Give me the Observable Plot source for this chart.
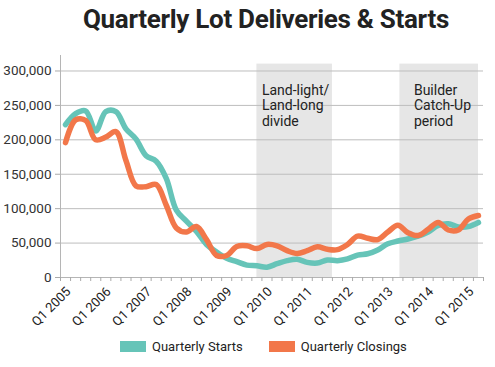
<!DOCTYPE html>
<html><head><meta charset="utf-8">
<script src="https://cdn.jsdelivr.net/npm/d3@7"></script>
<script src="https://cdn.jsdelivr.net/npm/@observablehq/plot@0.6"></script>
<style>
body{margin:0;background:#fff;}
#wrap{position:relative;width:495px;height:367px;overflow:hidden;font-family:Roboto,"DejaVu Sans Condensed",sans-serif;}
#title{position:absolute;left:0;top:4px;width:532px;text-align:center;font-size:26px;font-weight:bold;color:#222;letter-spacing:-0.3px;}
#legend{position:absolute;top:339px;left:120px;display:flex;align-items:center;font-size:13px;color:#222;}
.sw{display:inline-block;width:26px;height:11px;margin-right:6px;}
</style></head>
<body><div id="wrap"></div>
<script>
// Quarters Q1 2005 .. Q2 2015 (index 0..41)
const starts = [222000,238000,242000,213000,241000,241000,216000,201000,177000,169000,
  144000,98000,82000,67000,48000,37000,28000,23000,18000,17000,
  15000,20000,24500,26500,22000,21000,25500,24500,27000,32500,
  34500,40000,49000,53000,56000,60000,66000,75500,78000,73500,
  74000,80000];
const closings = [196000,229000,228000,200000,204000,212000,170000,133000,132000,135000,
  105000,72000,66000,74000,55000,32000,32000,45000,46000,42000,
  48000,46000,39000,35000,39000,44500,41000,40500,48000,60000,
  57000,55000,66000,76000,65000,61000,70000,80000,69000,69000,
  85000,90000];
const tickLabels = ["Q1 2005","Q1 2006","Q1 2007","Q1 2008","Q1 2009","Q1 2010","Q1 2011","Q1 2012","Q1 2013","Q1 2014","Q1 2015"];
const yTicks = [0,50000,100000,150000,200000,250000,300000];
const shadeStart = [19, 33.2];
const shadeEnd = [26.5, 41];
const shadeText = ["Land-light/\nLand-long\ndivide", "Builder\nCatch-Up\nperiod"];
const shadeIndent = [5, 14];
const seriesNames = ["Quarterly Starts","Quarterly Closings"];
const colors = ["#66c4b8","#f2774a"];

const rows = (arr) => arr.map((v,i)=>({i, v}));
const shades = shadeStart.map((s,k)=>({x1:s, x2:shadeEnd[k], label:shadeText[k]}));
const boundaries = d3.range(-0.5, 42, 1);
const labelPos = tickLabels.map((_,k)=>k*4);

const chart = Plot.plot({
  width: 495, height: 367,
  marginLeft: 60, marginRight: 12, marginTop: 55, marginBottom: 90,
  style: {fontFamily: 'Roboto,"DejaVu Sans Condensed",sans-serif', background: "transparent"},
  x: {type: "linear", domain: [-0.5, 41.5], axis: null},
  y: {domain: [0, 322500], axis: null},
  marks: [
    Plot.rect(shades, {x1:"x1", x2:"x2", y1:0, y2:310000, fill:"#e6e6e6"}),
    Plot.ruleY(yTicks.filter(d=>d>0), {x1:-0.5, x2:41.5, stroke:"#bdbdbd", strokeWidth:1}),
    Plot.text([shades[0]], {x:"x1", y:310000, text:"label", textAnchor:"start", lineAnchor:"top", dx:shadeIndent[0], dy:20, fontSize:14, fill:"#222", lineHeight:1.1}),
    Plot.text([shades[1]], {x:"x1", y:310000, text:"label", textAnchor:"start", lineAnchor:"top", dx:shadeIndent[1], dy:20, fontSize:14, fill:"#222", lineHeight:1.1}),
    Plot.axisY({ticks: yTicks, tickFormat: d3.format(","), tickSize: 5, stroke:"#aaa", fontSize: 13.5, fill:"#333", tickPadding: 4, label: null}),
    Plot.ruleX([-0.5], {y1:0, y2:322500, stroke:"#b5b5b5"}),
    Plot.ruleY([0], {x1:-0.5, x2:41.5, stroke:"#b5b5b5"}),
    Plot.axisX({ticks: boundaries, tickFormat: ()=>"", tickSize: 4, stroke:"#aaa", label: null}),
    Plot.axisX({ticks: labelPos, tickFormat: (d)=>tickLabels[d/4], tickSize: 0, tickRotate: -45, fontSize: 13, fill:"#222", tickPadding: 12, dx: 3, label: null}),
    Plot.line(rows(starts), {x:"i", y:"v", stroke:colors[0], strokeWidth:5.5, curve:"catmull-rom"}),
    Plot.line(rows(closings), {x:"i", y:"v", stroke:colors[1], strokeWidth:5.5, curve:"catmull-rom"})
  ]
});
const wrap = document.getElementById("wrap");
wrap.appendChild(chart);
const t = document.createElement("div"); t.id="title"; t.textContent="Quarterly Lot Deliveries & Starts"; wrap.appendChild(t);
const lg = document.createElement("div"); lg.id="legend";
seriesNames.forEach((n,k)=>{
  const s=document.createElement("span"); s.className="sw"; s.style.background=colors[k];
  const l=document.createElement("span"); l.textContent=n; l.style.marginRight = k===0 ? "26px" : "0";
  lg.appendChild(s); lg.appendChild(l);
});
wrap.appendChild(lg);
</script></body></html>
